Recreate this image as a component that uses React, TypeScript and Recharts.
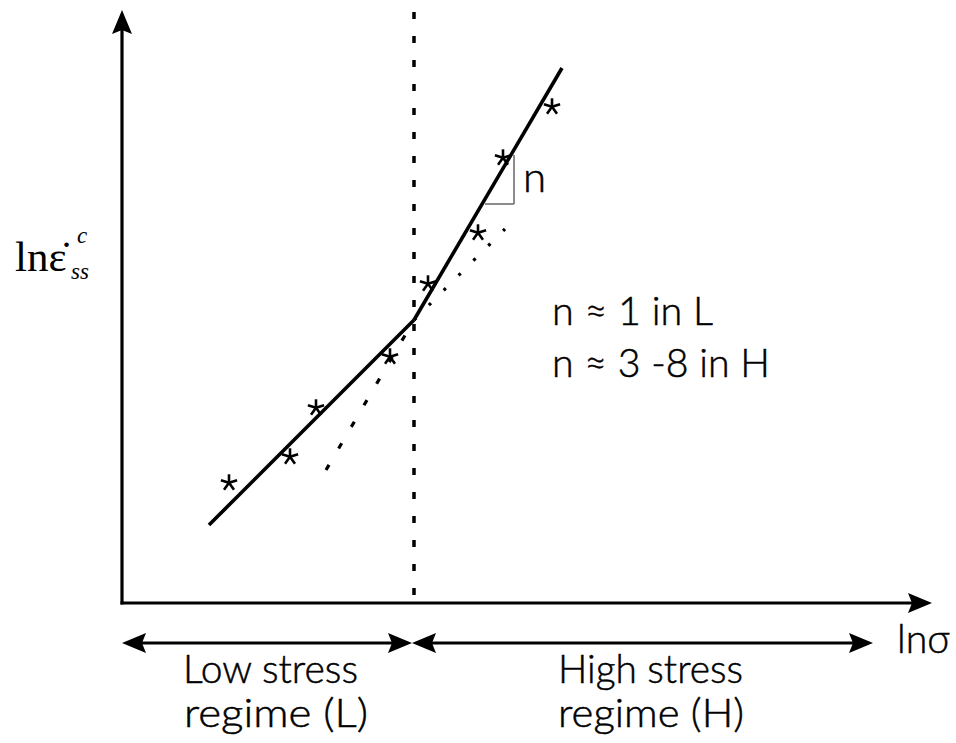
import React from 'react';
import {
  ComposedChart,
  XAxis,
  YAxis,
  Line,
  Scatter,
  ReferenceLine,
  ReferenceDot,
} from 'recharts';

// Frame: x = ln(sigma), y = ln(strain rate) in arbitrary schematic units (origin at axes' corner)
const xDomain = [-122, 834];
const yDomain = [-140, 603];

// fitted lines
const lowRegime = [
  { x: 87, y: 78 },
  { x: 292, y: 283 },
];
const highRegime = [
  { x: 292, y: 283 },
  { x: 440, y: 535 },
];
// extensions of the fits
const highExtension = [
  { x: 204, y: 133 },
  { x: 292, y: 283 },
];
const lowExtension = [
  { x: 292, y: 283 },
  { x: 383, y: 374 },
];
// measured points (asterisks)
const measured = [
  { x: 107, y: 121 },
  { x: 168, y: 147 },
  { x: 194, y: 196 },
  { x: 268, y: 247 },
  { x: 306, y: 320 },
  { x: 356, y: 371 },
  { x: 381, y: 446 },
  { x: 430, y: 497 },
];
const regimeBoundary = 292;
const slopeTriangle = [
  { x: 363, y: 399 },
  { x: 392, y: 399 },
  { x: 392, y: 448 },
];

// texts
const slopeLabel = 'n';
const notes = ['n \u2248 1 in L', 'n \u2248 3 -8 in H'];
const lowLabels = ['Low stress', 'regime (L)'];
const highLabels = ['High stress', 'regime (H)'];
const xLabel = 'ln\u03c3';
const yLabel = { base: 'ln\u03b5\u0307', sup: 'c', sub: 'ss' };

const SANS = 'Lato, "DejaVu Sans", sans-serif';
const SERIF = '"Liberation Serif", "Times New Roman", serif';

const Star = (p: any) => {
  const { cx, cy } = p;
  if (cx == null || cy == null) return null;
  const L = 8.5;
  const c = cy + 0.8;
  const arms = [0, 72, 144, 216, 288].map((a) => {
    const r = (a * Math.PI) / 180;
    return (
      <line
        key={a}
        x1={cx}
        y1={c}
        x2={cx + L * Math.sin(r)}
        y2={c - L * Math.cos(r)}
        stroke="#000"
        strokeWidth={2.6}
        strokeLinecap="butt"
      />
    );
  });
  return <g>{arms}</g>;
};

const arrowHead =
  (dir: 'up' | 'right' | 'left', len = 24, half = 10, notch = 4) =>
  (p: any) => {
    const { cx, cy } = p;
    let d = '';
    if (dir === 'up')
      d = `M${cx},${cy} L${cx - half},${cy + len} L${cx},${cy + len - notch} L${cx + half},${cy + len} Z`;
    if (dir === 'right')
      d = `M${cx},${cy} L${cx - len},${cy - half} L${cx - len + notch},${cy} L${cx - len},${cy + half} Z`;
    if (dir === 'left')
      d = `M${cx},${cy} L${cx + len},${cy - half} L${cx + len - notch},${cy} L${cx + len},${cy + half} Z`;
    return <path d={d} fill="#000" stroke="none" />;
  };

const sansText =
  (t: string, width?: number, size = 40) =>
  (p: any) => (
    <text
      x={p.cx}
      y={p.cy}
      fontFamily={SANS}
      fontWeight={300}
      fontSize={size}
      fill="#000"
      stroke="#000"
      strokeWidth={0.5}
      textLength={width}
      lengthAdjust={width ? 'spacingAndGlyphs' : undefined}
    >
      {t}
    </text>
  );

const yLabelShape = (p: any) => (
  <g>
    <text x={p.cx} y={p.cy} fontFamily={SERIF} fontSize={43} fill="#000">
      {yLabel.base}
    </text>
    <text x={p.cx + 62} y={p.cy - 28} fontFamily={SERIF} fontStyle="italic" fontSize={23} fill="#000">
      {yLabel.sup}
    </text>
    <text x={p.cx + 56} y={p.cy + 8} fontFamily={SERIF} fontStyle="italic" fontSize={23} fill="#000">
      {yLabel.sub}
    </text>
  </g>
);

export default function App() {
  return (
    <div style={{ position: 'absolute', left: 0, top: 0, width: 956, height: 743, background: '#fff' }}>
      <ComposedChart width={956} height={743} margin={{ top: 0, right: 0, bottom: 0, left: 0 }}>
        <XAxis type="number" dataKey="x" domain={xDomain} allowDataOverflow hide />
        <YAxis type="number" dataKey="y" domain={yDomain} allowDataOverflow hide />

        {/* axes */}
        <ReferenceLine segment={[{ x: 0, y: -1.5 }, { x: 0, y: 575 }]} stroke="#000" strokeWidth={3.2} ifOverflow="visible" />
        <ReferenceLine segment={[{ x: -1.5, y: 0 }, { x: 795, y: 0 }]} stroke="#000" strokeWidth={3.2} ifOverflow="visible" />
        <ReferenceDot x={0} y={593} r={0} shape={arrowHead('up', 24, 10)} ifOverflow="visible" />
        <ReferenceDot x={810} y={0} r={0} shape={arrowHead('right', 24, 10)} ifOverflow="visible" />

        {/* regime arrows */}
        <ReferenceLine segment={[{ x: 10, y: -40 }, { x: 280, y: -40 }]} stroke="#000" strokeWidth={3} ifOverflow="visible" />
        <ReferenceLine segment={[{ x: 300, y: -40 }, { x: 741, y: -40 }]} stroke="#000" strokeWidth={3} ifOverflow="visible" />
        <ReferenceDot x={0} y={-40} r={0} shape={arrowHead('left')} ifOverflow="visible" />
        <ReferenceDot x={290} y={-40} r={0} shape={arrowHead('right')} ifOverflow="visible" />
        <ReferenceDot x={290} y={-40} r={0} shape={arrowHead('left')} ifOverflow="visible" />
        <ReferenceDot x={751} y={-40} r={0} shape={arrowHead('right')} ifOverflow="visible" />

        {/* regime boundary */}
        <ReferenceLine
          segment={[{ x: regimeBoundary, y: 591 }, { x: regimeBoundary, y: 3 }]}
          stroke="#000"
          strokeWidth={3.5}
          strokeDasharray="7 17"
          ifOverflow="visible"
        />

        {/* slope triangle */}
        <ReferenceLine segment={[slopeTriangle[0], slopeTriangle[1]]} stroke="#666" strokeWidth={1.5} ifOverflow="visible" />
        <ReferenceLine segment={[slopeTriangle[1], slopeTriangle[2]]} stroke="#666" strokeWidth={1.5} ifOverflow="visible" />

        {/* extensions */}
        <Line data={highExtension} dataKey="y" type="linear" stroke="#000" strokeWidth={3.2} strokeDasharray="6 19" dot={false} activeDot={false} isAnimationActive={false} />
        <Line data={lowExtension} dataKey="y" type="linear" stroke="#000" strokeWidth={3.2} strokeDasharray="3 18" dot={false} activeDot={false} isAnimationActive={false} />

        {/* fits */}
        <Line data={lowRegime} dataKey="y" type="linear" stroke="#000" strokeWidth={3.6} dot={false} activeDot={false} isAnimationActive={false} />
        <Line data={highRegime} dataKey="y" type="linear" stroke="#000" strokeWidth={3.6} dot={false} activeDot={false} isAnimationActive={false} />

        {/* measured */}
        <Scatter data={measured} dataKey="y" shape={Star} isAnimationActive={false} />

        {/* texts */}
        <ReferenceDot x={401} y={411} r={0} shape={sansText(slopeLabel, undefined, 42)} ifOverflow="visible" />
        <ReferenceDot x={430} y={278} r={0} shape={sansText(notes[0], 161)} ifOverflow="visible" />
        <ReferenceDot x={430} y={226} r={0} shape={sansText(notes[1], 218)} ifOverflow="visible" />
        <ReferenceDot x={61} y={-80} r={0} shape={sansText(lowLabels[0], 175)} ifOverflow="visible" />
        <ReferenceDot x={62} y={-124} r={0} shape={sansText(lowLabels[1], 184)} ifOverflow="visible" />
        <ReferenceDot x={436} y={-80} r={0} shape={sansText(highLabels[0], 185)} ifOverflow="visible" />
        <ReferenceDot x={436} y={-124} r={0} shape={sansText(highLabels[1], 186)} ifOverflow="visible" />
        <ReferenceDot x={775} y={-50} r={0} shape={sansText(xLabel, 53)} ifOverflow="visible" />
        <ReferenceDot x={-107} y={332} r={0} shape={yLabelShape} ifOverflow="visible" />
      </ComposedChart>
    </div>
  );
}
